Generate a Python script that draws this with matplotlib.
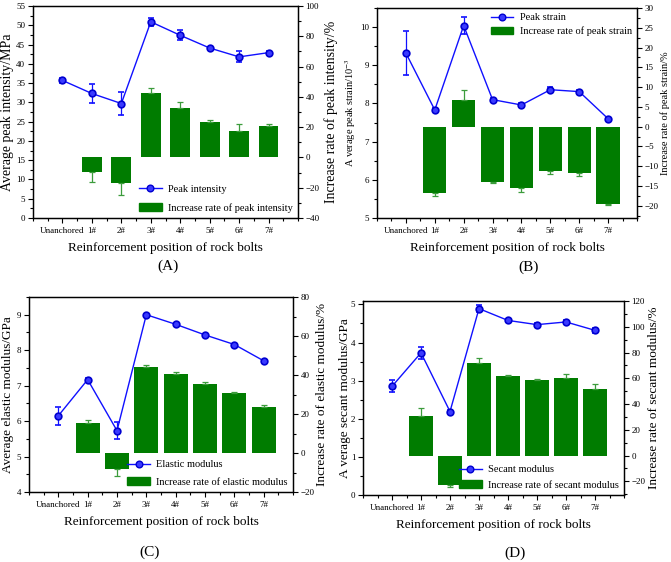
import numpy as np
import matplotlib.pyplot as plt
from matplotlib.ticker import MultipleLocator
from matplotlib.patches import Patch
from matplotlib.lines import Line2D

plt.rcParams['font.family'] = ['Liberation Serif', 'DejaVu Serif']
plt.rcParams['mathtext.fontset'] = 'stix'

positions = ["Unanchored", "1#", "2#", "3#", "4#", "5#", "6#", "7#"]

# (A) peak intensity, MPa, and its increase rate (%) for 1#..7#
peak_intensity = [35.7, 32.3, 29.7, 50.9, 47.4, 44.1, 41.8, 42.9]
peak_intensity_err = [0.6, 2.4, 2.9, 1.0, 1.3, 0.3, 1.4, 0.3]
peak_intensity_rate = [-9.8, -17.0, 42.6, 32.7, 23.7, 17.5, 21.0]
peak_intensity_rate_err = [6.6, 8.1, 3.0, 4.2, 1.3, 4.8, 0.9]

# (B) peak strain, 10^-3
peak_strain = [9.32, 7.83, 10.04, 8.10, 7.96, 8.36, 8.31, 7.60]
peak_strain_err = [0.58, 0.04, 0.22, 0.03, 0.06, 0.06, 0.05, 0.03]
peak_strain_rate = [-16.8, 6.7, -14.1, -15.5, -11.3, -11.8, -19.5]
peak_strain_rate_err = [0.8, 2.5, 0.2, 0.9, 0.8, 0.8, 0.4]

# (C) elastic modulus, GPa
elastic_modulus = [6.15, 7.17, 5.73, 9.0, 8.73, 8.43, 8.16, 7.70]
elastic_modulus_err = [0.25, 0.05, 0.24, 0.02, 0.03, 0.02, 0.02, 0.03]
elastic_modulus_rate = [15.3, -8.3, 44.2, 40.3, 35.5, 31.0, 23.6]
elastic_modulus_rate_err = [1.4, 3.4, 0.7, 1.4, 0.8, 0.5, 1.0]

# (D) secant modulus, GPa
secant_modulus = [2.85, 3.73, 2.19, 4.89, 4.58, 4.47, 4.54, 4.32]
secant_modulus_err = [0.16, 0.15, 0.03, 0.09, 0.03, 0.03, 0.06, 0.07]
secant_modulus_rate = [31.0, -22.7, 72.1, 61.5, 58.7, 60.2, 51.9]
secant_modulus_rate_err = [6.2, 1.8, 3.9, 1.3, 0.8, 3.4, 3.4]

LINE_COLOR = "#1010ff"
BAR_COLOR = "#007c00"
BAR_ERR_COLOR = "#3c9c3c"


# draws one panel: line with error bars on the left axis, bars on the right axis
def draw_panel(fig, rect, values, errs, rates, rate_errs, left_lim, left_step,
               right_lim, right_step, ylabel, rlabel, line_label, bar_label,
               bar_width, legend_loc, label_size, legend_size, labelspacing,
               lpad=2, rpad=3):
    ax = fig.add_axes(rect)
    ax2 = ax.twinx()

    x = np.arange(len(positions))
    xb = x[1:]

    # one sided error bars, in the direction the bar grows
    rates = np.array(rates)
    rate_errs = np.array(rate_errs)
    lower = np.where(rates < 0, rate_errs, 0)
    upper = np.where(rates >= 0, rate_errs, 0)
    ax2.bar(xb, rates, width=bar_width, color=BAR_COLOR,
            yerr=[lower, upper], capsize=2,
            error_kw=dict(ecolor=BAR_ERR_COLOR, elinewidth=0.9, capthick=0.9))

    ax.errorbar(x, values, yerr=errs, color=LINE_COLOR, lw=1, marker='o',
                ms=4.8, mfc="#3a3aff", mec="#0000d0", mew=1.2,
                ecolor=LINE_COLOR, elinewidth=0.9, capsize=2, capthick=0.9)

    # line above the bars
    ax.set_zorder(ax2.get_zorder() + 1)
    ax.patch.set_visible(False)

    ax.set_xlim(-1, 8)
    ax.set_xticks(x)
    ax.set_xticklabels(positions, fontsize=6.3)
    ax.xaxis.set_minor_locator(MultipleLocator(0.5))
    ax.set_ylim(*left_lim)
    ax.yaxis.set_major_locator(MultipleLocator(left_step))
    ax.yaxis.set_minor_locator(MultipleLocator(left_step / 2))
    ax2.set_ylim(*right_lim)
    ax2.yaxis.set_major_locator(MultipleLocator(right_step))
    ax2.yaxis.set_minor_locator(MultipleLocator(right_step / 2))

    for a in (ax, ax2):
        a.tick_params(which='major', length=3.5, width=0.8, labelsize=6.5, pad=2)
        a.tick_params(which='minor', length=2, width=0.8)
        for s in a.spines.values():
            s.set_linewidth(0.9)
    ax.tick_params(axis='x', pad=3)

    ax.set_xlabel("Reinforcement position of rock bolts", fontsize=9.5, labelpad=5)
    ax.set_ylabel(ylabel, fontsize=label_size, labelpad=lpad)
    ax2.set_ylabel(rlabel, fontsize=label_size, labelpad=rpad)

    handles = [Line2D([], [], color=LINE_COLOR, lw=1, marker='o', ms=4.8,
                      mfc="#3a3aff", mec="#0000d0"),
               Patch(color=BAR_COLOR)]
    ax.legend(handles, [line_label, bar_label], loc=legend_loc, frameon=False,
              fontsize=legend_size, handlelength=2.2, labelspacing=labelspacing,
              borderaxespad=0.1, handletextpad=0.6)
    return ax


fig = plt.figure(figsize=(6.71, 5.62), dpi=100)

draw_panel(fig, [33 / 671, 1 - 218 / 562, 265 / 671, 212 / 562],
           peak_intensity, peak_intensity_err, peak_intensity_rate,
           peak_intensity_rate_err, (0, 55), 5, (-40, 100), 20,
           "Average peak intensity/MPa", "Increase rate of peak intensity/%",
           "Peak intensity", "Increase rate of peak intensity",
           0.67, 'lower right', 10, 7.5, 0.9)

draw_panel(fig, [377 / 671, 1 - 218 / 562, 260 / 671, 210 / 562],
           peak_strain, peak_strain_err, peak_strain_rate,
           peak_strain_rate_err, (5, 10.5), 1, (-23.1, 30), 5,
           r"A verage peak strain/10$^{-3}$", "Increase rate of peak strain/%",
           "Peak strain", "Increase rate of peak strain",
           0.81, 'upper right', 7.5, 7.5, 0.35, lpad=2, rpad=1)

draw_panel(fig, [29 / 671, 1 - 492 / 562, 264 / 671, 195 / 562],
           elastic_modulus, elastic_modulus_err, elastic_modulus_rate,
           elastic_modulus_rate_err, (4, 9.5), 1, (-20, 80), 20,
           "Average elastic modulus/GPa", "Increase rate of elastic modulus/%",
           "Elastic modulus", "Increase rate of elastic modulus",
           0.81, 'lower right', 9.5, 7.5, 0.8, lpad=2, rpad=1)

draw_panel(fig, [363 / 671, 1 - 495 / 562, 261 / 671, 194 / 562],
           secant_modulus, secant_modulus_err, secant_modulus_rate,
           secant_modulus_rate_err, (0, 5.09), 1, (-30.6, 120), 20,
           "A verage secant modulus/GPa", "Increase rate of secant modulus/%",
           "Secant modulus", "Increase rate of secant modulus",
           0.83, 'lower right', 9.5, 7.5, 0.6, lpad=0, rpad=2)

fig.text(168 / 671, 1 - 266 / 562, "(A)", fontsize=11, ha='center', va='center')
fig.text(529 / 671, 1 - 267 / 562, "(B)", fontsize=11, ha='center', va='center')
fig.text(150 / 671, 1 - 552 / 562, "(C)", fontsize=11, ha='center', va='center')
fig.text(515 / 671, 1 - 553 / 562, "(D)", fontsize=11, ha='center', va='center')

plt.savefig("out.png", dpi=100)
